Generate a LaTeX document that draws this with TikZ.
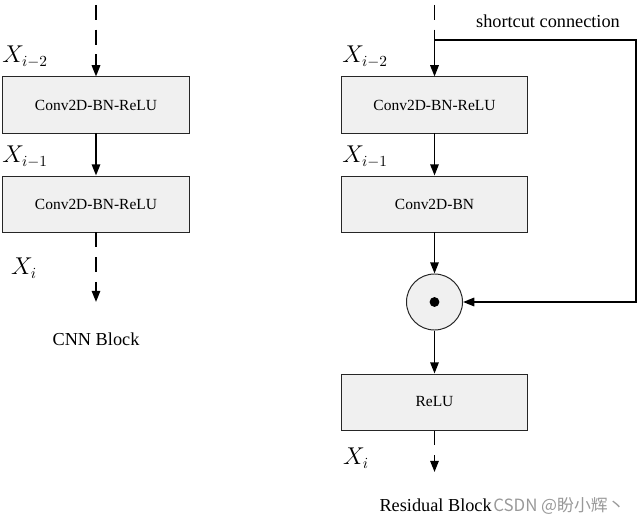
\documentclass[tikz,border=0pt]{standalone}
\usepackage{fontspec}
\setmainfont{Liberation Serif}
\newfontfamily\cjk{Noto Sans CJK SC}
\usetikzlibrary{arrows.meta,positioning,calc}

\begin{document}
\begin{tikzpicture}[x=0.025cm,y=-0.025cm,
    layer/.style={draw=black!85,line width=0.7pt,fill=black!6,minimum width=4.65cm,minimum height=1.4cm,font=\fontsize{11}{13}\selectfont},
    arr/.style={line width=1.2pt,-{Triangle[length=8pt,width=6pt]}},
    dashline/.style={arr,dash pattern=on 10.6pt off 7pt},
    lbl/.style={font=\fontsize{16}{18}\selectfont}]
  \useasboundingbox (0,0) rectangle (638,525);
  % CNN block
  \coordinate (ltop) at (96,5);
  \coordinate (lend) at (96,302);
  \node[layer] (lb1) at (96,105) {Conv2D-BN-ReLU};
  \node[layer] (lb2) at (96,204) {Conv2D-BN-ReLU};
  \draw[dashline] (ltop) -- (lb1);
  \draw[arr] (lb1) -- (lb2);
  \draw[dashline] (lb2) -- (lend);
  \node[lbl] (lx2) at (25,57) {$X_{i-2}$};
  \node[lbl] (lx1) at (25,157) {$X_{i-1}$};
  \node[lbl] (lx0) at (24,268) {$X_i$};
  \node[font=\fontsize{13}{15}\selectfont] (lname) at (96,339) {CNN Block};
  % residual block
  \coordinate (rtop) at (434.5,5);
  \coordinate (j) at (434.5,40);
  \coordinate (sc) at (636,40);
  \coordinate (rend) at (434.5,472);
  \node[layer] (rb1) at (434.5,105) {Conv2D-BN-ReLU};
  \node[layer] (rb2) at (434.5,204) {Conv2D-BN};
  \node[circle,draw=black!85,line width=0.7pt,fill=black!6,minimum size=1.4cm] (dot) at (434.5,302) {};
  \fill (dot.center) circle (3.5pt);
  \node[layer] (relu) at (434.5,402) {ReLU};
  \draw[dash pattern=on 10.6pt off 7pt,line width=1.2pt] (rtop) -- (j);
  \draw[arr] (j) -- (rb1);
  \draw[arr] (rb1) -- (rb2);
  \draw[arr] (rb2) -- (dot);
  \draw[arr] (dot) -- (relu);
  \draw[dashline] (relu) -- (rend);
  \draw[arr] (j) -- (sc) |- (dot);
  \node[lbl] (rx2) at (365,57) {$X_{i-2}$};
  \node[lbl] (rx1) at (365,157) {$X_{i-1}$};
  \node[lbl] (rx0) at (356,458) {$X_i$};
  \node[font=\fontsize{13}{15}\selectfont] (scl) at (548,21) {shortcut connection};
  \node[font=\fontsize{13}{15}\selectfont,anchor=east,inner xsep=0pt] (rname) at (492,505) {Residual Block};
  \node[font=\cjk\fontsize{12}{14}\selectfont,text=black!40,anchor=west,inner sep=0pt] (wm) at (493,506) {CSDN @盼小辉丶};
\end{tikzpicture}
\end{document}
